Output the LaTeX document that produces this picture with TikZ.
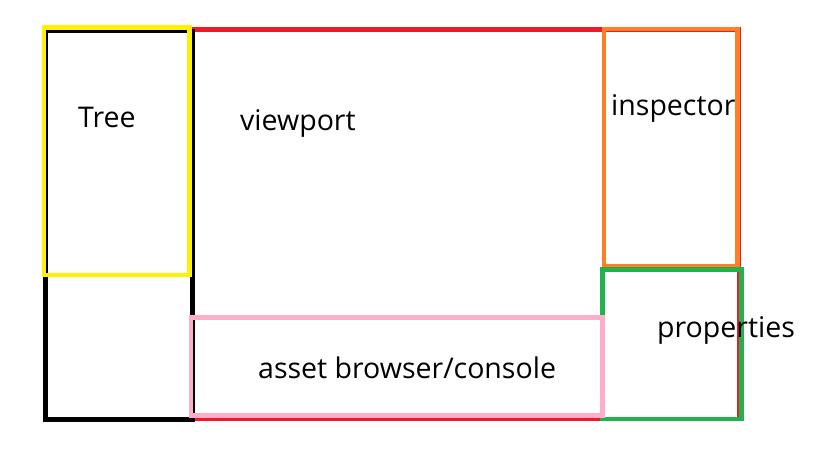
\documentclass[tikz,border=0pt]{standalone}
\usepackage{fontspec}
\setmainfont{Open Sans}
\definecolor{pred}{HTML}{ED1C24}
\definecolor{pyellow}{HTML}{FFF200}
\definecolor{porange}{HTML}{FF7F27}
\definecolor{pgreen}{HTML}{22B14C}
\definecolor{ppink}{HTML}{FFAEC9}
\tikzset{panel/.style={line width=4.8pt},
  lbl/.style={anchor=base west,inner sep=0pt,font=\fontsize{28.5}{34}\selectfont}}
\begin{document}
\begin{tikzpicture}[x=1pt,y=-1pt]
\useasboundingbox (0,0) rectangle (819,460);
\fill[white] (0,0) rectangle (819,460);
\draw[panel,pred] (45,29.5) rectangle (739,419);
\draw[panel,black] (45.5,31) rectangle (192.5,419.5);
\draw[panel,pyellow] (44,27.5) rectangle (189.5,275);
\draw[panel,porange] (604,29) rectangle (737.5,266);
\draw[panel,pgreen] (602.5,269.5) rectangle (741.5,419);
\draw[panel,ppink] (191,317.5) rectangle (602.5,415.5);
\node[lbl] (tree) at (78,127) {Tree};
\node[lbl] (viewport) at (240,130) {viewport};
\node[lbl] (inspector) at (611,115) {inspector};
\node[lbl] (properties) at (657,337) {properties};
\node[lbl] (asset) at (258,378) {asset browser/console};
\end{tikzpicture}
\end{document}
